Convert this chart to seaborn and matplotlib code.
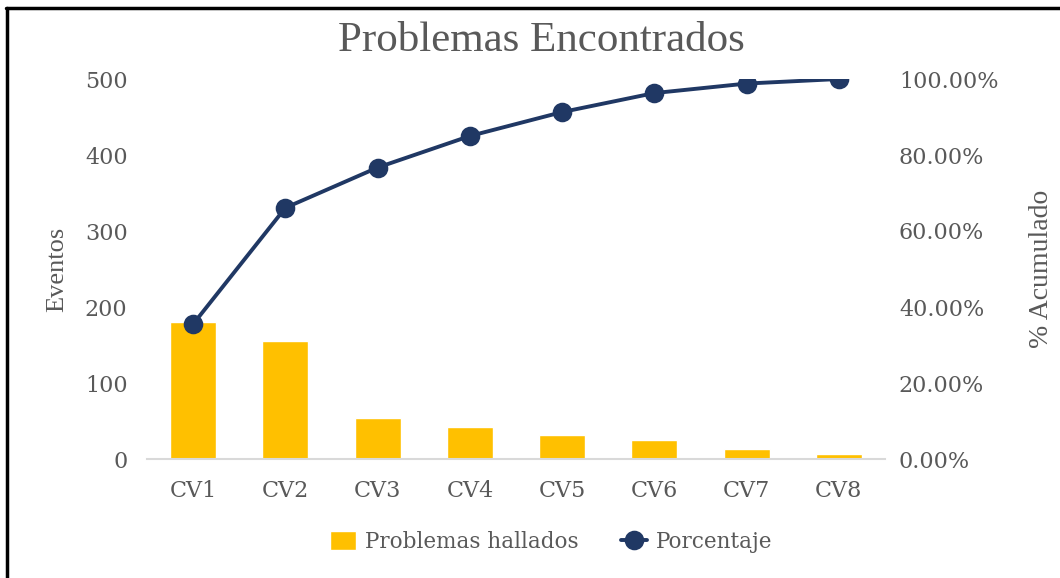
import seaborn as sns
import matplotlib.pyplot as plt
from matplotlib.lines import Line2D
from matplotlib.ticker import FuncFormatter

categorias = ['CV1', 'CV2', 'CV3', 'CV4', 'CV5', 'CV6', 'CV7', 'CV8']
problemas = [180, 155, 54, 42, 32, 25, 13, 6]
porcentaje = [35.5, 66.1, 76.7, 85.0, 91.3, 96.3, 98.8, 100.0]

amarillo = '#FFC000'
azul = '#203864'
gris = '#595959'

sns.set_theme(style="white")
plt.rcParams['font.family'] = ['DejaVu Serif']

fig = plt.figure(figsize=(10.6, 5.78), dpi=100)
ax = fig.add_axes([147 / 1060, 1 - 459 / 578, 738 / 1060, 380 / 578])
ax2 = ax.twinx()

sns.barplot(x=categorias, y=problemas, ax=ax, color=amarillo, saturation=1,
            width=0.5, label='Problemas hallados')
sns.pointplot(x=categorias, y=porcentaje, ax=ax2, color=azul, markers='o',
              markersize=12, linewidth=2.8, label='Porcentaje')

ax.set_ylim(0, 500)
ax.set_yticks([0, 100, 200, 300, 400, 500])
ax2.set_ylim(0, 100)
ax2.set_yticks([0, 20, 40, 60, 80, 100])
ax2.yaxis.set_major_formatter(FuncFormatter(lambda v, p: f'{v:.2f}%'))
ax.set_xlim(-0.5, 7.5)

for a in (ax, ax2):
    for s in a.spines.values():
        s.set_visible(False)
    a.tick_params(length=0, labelsize=16, colors=gris)
    a.grid(False)
ax.spines['bottom'].set_visible(True)
ax.spines['bottom'].set_color('#D9D9D9')
ax.spines['bottom'].set_linewidth(1.5)
ax.tick_params(axis='y', pad=14)
ax.tick_params(axis='x', pad=15)
ax2.tick_params(axis='y', pad=10)

ax.set_xlabel('')
ax.set_ylabel('Eventos', fontsize=19, color=gris, family='Liberation Serif', labelpad=12)
ax2.set_ylabel('% Acumulado', fontsize=20, color=gris, family='Liberation Serif', labelpad=22)

fig.text(0.511, 0.93, 'Problemas Encontrados', ha='center', va='center',
         fontsize=31, color=gris, family='Liberation Serif')

h1, l1 = ax.get_legend_handles_labels()
h2, l2 = ax2.get_legend_handles_labels()
for a in (ax, ax2):
    if a.get_legend() is not None:
        a.get_legend().remove()
fig.legend(h1 + h2, l1 + l2, loc='center', bbox_to_anchor=(0.52, 0.062), ncol=2,
           frameon=False, fontsize=15.5, labelcolor=gris, handlelength=1.2,
           handleheight=1.0, columnspacing=2.0, handletextpad=0.4)

# marco negro (izquierda y arriba)
fig.add_artist(Line2D([7 / 1060, 7 / 1060], [0, 1 - 8 / 578], color='black', lw=2.5,
                      transform=fig.transFigure))
fig.add_artist(Line2D([6 / 1060, 1], [1 - 8 / 578, 1 - 8 / 578], color='black', lw=2.5,
                      transform=fig.transFigure))

plt.savefig('out.png', dpi=100)
